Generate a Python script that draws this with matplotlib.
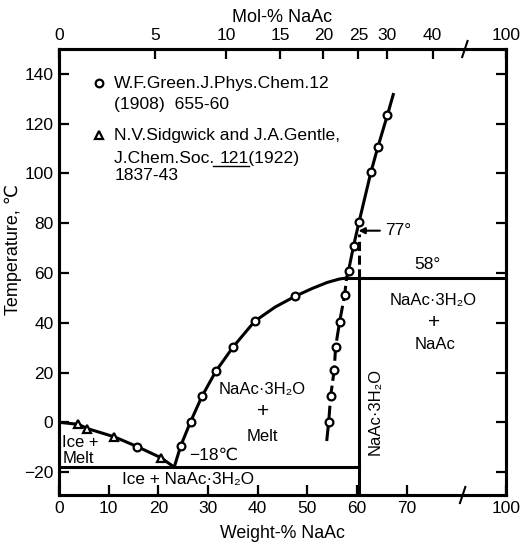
import numpy as np
import matplotlib
matplotlib.use('Agg')
import matplotlib.pyplot as plt

plt.rcParams['font.family'] = ['Liberation Sans', 'DejaVu Sans']

# ---------------- data ----------------
# ice / melt boundary line
ice_line_w = [0, 3.9, 5.7, 11.1, 15.8, 20.5, 23.2]
ice_line_t = [0, -0.8, -2.5, -5.8, -9.8, -14.2, -18]
# Sidgwick & Gentle points (triangles)
sidg_w = [3.9, 5.7, 11.1, 20.5]
sidg_t = [-0.8, -2.5, -5.8, -14.2]
# NaAc.3H2O solubility curve
tri_line_w = [23.2, 24.5, 26.5, 28.8, 31.6, 35.1, 39.4, 43.5, 47.6, 51.0, 54.0, 56.5, 58.0]
tri_line_t = [-18, -9.5, 0.3, 10.5, 20.6, 30.4, 40.6, 46.3, 50.7, 53.8, 56.2, 57.6, 58.0]
# Green points (circles)
green_w = [15.8, 24.5, 26.5, 28.8, 31.6, 35.1, 39.4, 47.6,
           54.3, 54.7, 55.4, 55.7, 56.5, 57.5, 58.3, 59.3, 60.4, 62.8, 64.2, 66.1]
green_t = [-9.8, -9.5, 0.3, 10.5, 20.6, 30.4, 40.6, 50.7,
           0.1, 10.6, 20.9, 30.4, 40.4, 51.0, 61.0, 70.8, 80.4, 100.5, 110.6, 123.3]
# anhydrous NaAc solubility line: metastable (dashed) and stable (solid)
anh_meta_w = [53.9, 54.3, 54.7, 55.4, 55.7, 56.5, 57.5, 57.9]
anh_meta_t = [-7.5, 0.1, 10.6, 20.9, 30.4, 40.4, 51.0, 58.0]
anh_stab_w = [57.9, 58.3, 59.3, 60.4, 62.8, 64.2, 66.1, 67.3]
anh_stab_t = [58.0, 61.0, 70.8, 80.4, 100.5, 110.6, 123.3, 131.7]

eutectic_t = -18
peritectic_t = 58
hydrate_w = 60.4
hydrate_melt_t = 77

bottom_ticks = [0, 10, 20, 30, 40, 50, 60, 70, 100]
mol_ticks = [0, 5, 10, 15, 20, 25, 30, 40, 100]
y_ticks = [-20, 0, 20, 40, 60, 80, 100, 120, 140]

# ---------------- broken x scale ----------------
def fwd(w):
    w = np.asarray(w, dtype=float)
    return np.where(w <= 80, w, 80 + (w - 80) * 0.5)

def inv(d):
    d = np.asarray(d, dtype=float)
    return np.where(d <= 80, d, 80 + (d - 80) * 2.0)

M_NAAC, M_H2O = 82.03, 18.015
def mol_to_wt(m):
    m = np.asarray(m, dtype=float)
    return 100 * M_NAAC * m / (M_NAAC * m + M_H2O * (100 - m))

fig = plt.figure(figsize=(5.2, 5.47), dpi=100)
ax = fig.add_axes([59/520, 1 - 495/547, 447/520, 446/547])
ax.set_xscale('function', functions=(fwd, inv))
ax.set_xlim(0, 100)
ax.set_ylim(-29.2, 150)

lw = 2.2
# boundary lines
ax.plot(ice_line_w, ice_line_t, color='black', lw=lw, solid_capstyle='butt')
ax.plot(tri_line_w, tri_line_t, color='black', lw=lw)
ax.plot(anh_meta_w, anh_meta_t, color='black', lw=lw, ls=(0, (5, 1.6)))
ax.plot(anh_stab_w, anh_stab_t, color='black', lw=lw)
ax.plot([0, hydrate_w], [eutectic_t, eutectic_t], color='black', lw=lw)
ax.plot([hydrate_w, hydrate_w], [-29.2, peritectic_t], color='black', lw=lw)
ax.plot([57.9, 100], [peritectic_t, peritectic_t], color='black', lw=lw)
ax.plot([hydrate_w, hydrate_w], [peritectic_t, hydrate_melt_t - 1.5],
        color='black', lw=lw, ls=(0, (3, 1.5)))

# points
ax.plot(green_w, green_t, 'o', ms=5.6, mfc='white', mec='black', mew=1.6, zorder=5)
ax.plot(sidg_w, sidg_t, '^', ms=6.2, mfc='white', mec='black', mew=1.6, zorder=5)

# 77 degree arrow
ax.annotate('', xy=(hydrate_w - 0.1, hydrate_melt_t), xytext=(64.6, hydrate_melt_t),
            arrowprops=dict(arrowstyle='-|>', color='black', lw=1.5,
                            mutation_scale=9, shrinkA=0, shrinkB=0))
ax.text(65.6, hydrate_melt_t, '77°', fontsize=12.5, va='center', ha='left')
ax.text(74.2, 63.3, '58°', fontsize=12.5, va='center', ha='center')

fs = 12
ax.text(41.0, 13.0, 'NaAc·3H₂O', fontsize=fs, ha='center', va='center')
ax.text(41.0, 4.2, '+', fontsize=15, ha='center', va='center')
ax.text(41.0, -5.7, 'Melt', fontsize=fs, ha='center', va='center')

ax.text(75.4, 49.0, 'NaAc·3H₂O', fontsize=fs, ha='center', va='center')
ax.text(75.6, 40.3, '+', fontsize=15, ha='center', va='center')
ax.text(75.8, 31.2, 'NaAc', fontsize=fs, ha='center', va='center')

ax.text(63.7, 4.5, 'NaAc·3H₂O', fontsize=fs, ha='center', va='center', rotation=90)

ax.text(0.7, -8.1, 'Ice +', fontsize=fs, ha='left', va='center')
ax.text(0.7, -14.6, 'Melt', fontsize=fs, ha='left', va='center')
ax.text(26.2, -13.4, '−18℃', fontsize=12.5, ha='left', va='center')
ax.text(12.6, -22.8, 'Ice + NaAc·3H₂O', fontsize=12.3, ha='left', va='center')

# legend block
lx, tx = 8.0, 11.1
ax.plot([lx], [136.2], 'o', ms=5.5, mfc='white', mec='black', mew=1.6, clip_on=False)
ax.plot([lx], [115.4], '^', ms=6, mfc='white', mec='black', mew=1.6, clip_on=False)
lfs = 12.6
ax.text(tx, 136.2, 'W.F.Green.J.Phys.Chem.12', fontsize=lfs, va='center')
ax.text(tx, 127.6, '(1908)  655-60', fontsize=lfs, va='center')
ax.text(tx, 115.4, 'N.V.Sidgwick and J.A.Gentle,', fontsize=lfs, va='center')
ax.text(tx, 99.2, '1837-43', fontsize=lfs, va='center')
base_y = 104.0
pre = ax.text(tx, base_y, 'J.Chem.Soc. ', fontsize=lfs, va='baseline')

fig.canvas.draw()
r = fig.canvas.get_renderer()
bb = pre.get_window_extent(r)
x_after = ax.transData.inverted().transform((bb.x1, bb.y0))[0]
t2 = ax.text(x_after, base_y, '121(1922)', fontsize=lfs, va='baseline')
t121 = ax.text(x_after, base_y, '121', fontsize=lfs, va='baseline', alpha=0)
fig.canvas.draw()
b121 = t121.get_window_extent(r)
base_pix = ax.transData.transform((tx, base_y))[1]
uy_pix = base_pix - 2.5
p0 = ax.transData.inverted().transform((bb.x1 - 6, uy_pix))
p1 = ax.transData.inverted().transform((b121.x1, uy_pix))
ax.plot([p0[0], p1[0]], [p0[1], p1[1]], color='black', lw=1.0)

# axes styling
for s in ax.spines.values():
    s.set_linewidth(2.2)
ax.set_xticks(bottom_ticks)
ax.set_xticklabels([str(v) for v in bottom_ticks])
ax.set_yticks(y_ticks)
ax.tick_params(axis='both', direction='in', length=7, width=1.6, labelsize=12.5,
               right=True, top=False, pad=4)
ax.set_xlabel('Weight-% NaAc', fontsize=12.8, labelpad=7)
ax.set_ylabel('Temperature, ℃', fontsize=13)
ax.yaxis.set_label_coords(-0.083, 0.55)

ax2 = ax.twiny()
ax2.set_xscale('function', functions=(fwd, inv))
ax2.set_xlim(0, 100)
ax2.set_xticks(mol_to_wt(mol_ticks))
ax2.set_xticklabels([str(v) for v in mol_ticks])
ax2.tick_params(axis='x', direction='in', length=7, width=1.6, labelsize=12.5, pad=4)
for s in ax2.spines.values():
    s.set_linewidth(2.2)
ax2.set_xlabel('Mol-% NaAc', fontsize=13, labelpad=5)

# axis break marks
for xf, yf in [(0.903, 0.0), (0.908, 1.0)]:
    ax.plot([xf - 0.008, xf + 0.008], [yf, yf], color='white', lw=3,
            transform=ax.transAxes, clip_on=False, zorder=10)
    ax.plot([xf - 0.006, xf + 0.006], [yf - 0.018, yf + 0.018], color='black', lw=1.5,
            transform=ax.transAxes, clip_on=False, zorder=11)

fig.savefig('out.png', dpi=100)
